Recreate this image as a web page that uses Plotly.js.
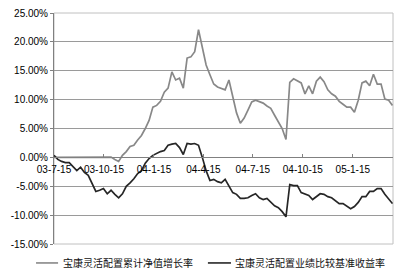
<!DOCTYPE html>
<html>
<head>
<meta charset="utf-8">
<script src="https://cdn.plot.ly/plotly-3.0.1.min.js"></script>
<style>html,body{margin:0;padding:0;background:#fff;}#chart{width:400px;height:273px;}</style>
</head>
<body>
<div id="chart"></div>
<script>
// Weekly observation dates
const dates = [
 "2003-07-15","2003-07-22","2003-07-29","2003-08-05","2003-08-12","2003-08-19","2003-08-26","2003-09-02","2003-09-09","2003-09-16",
 "2003-09-23","2003-09-30","2003-10-07","2003-10-14","2003-10-21","2003-10-28","2003-11-04","2003-11-11","2003-11-18","2003-11-25",
 "2003-12-02","2003-12-09","2003-12-16","2003-12-23","2003-12-30","2004-01-06","2004-01-13","2004-01-20","2004-01-27","2004-02-03",
 "2004-02-10","2004-02-17","2004-02-24","2004-03-02","2004-03-09","2004-03-16","2004-03-23","2004-03-30","2004-04-06","2004-04-13",
 "2004-04-20","2004-04-27","2004-05-04","2004-05-11","2004-05-18","2004-05-25","2004-06-01","2004-06-08","2004-06-15","2004-06-22",
 "2004-06-29","2004-07-06","2004-07-13","2004-07-20","2004-07-27","2004-08-03","2004-08-10","2004-08-17","2004-08-24","2004-08-31",
 "2004-09-07","2004-09-14","2004-09-21","2004-09-28","2004-10-05","2004-10-12","2004-10-19","2004-10-26","2004-11-02","2004-11-09",
 "2004-11-16","2004-11-23","2004-11-30","2004-12-07","2004-12-14","2004-12-21","2004-12-28","2005-01-04","2005-01-11","2005-01-18",
 "2005-01-25","2005-02-01","2005-02-08","2005-02-15","2005-02-22","2005-03-01","2005-03-08","2005-03-15","2005-03-22","2005-03-29"
];
// 宝康灵活配置累计净值增长率 (%)
const navGrowth = [
 0,0,0,0,0,0,0,0,0,0,
 0,0,0,0,0,0.05,-0.35,-0.7,0.35,1.0,
 1.9,2.1,3.0,3.8,5.0,6.4,8.7,9.0,9.7,11.3,
 12.0,14.8,13.4,13.7,12.0,17.2,17.4,18.3,22.1,19.0,
 16.0,14.3,12.7,12.2,12.0,11.7,13.4,10.3,7.7,5.9,
 6.8,8.2,9.6,9.9,9.6,9.4,8.9,8.5,7.3,6.1,
 5.0,3.1,13.0,13.6,13.2,12.9,11.0,12.4,11.0,13.2,
 13.9,13.1,11.7,11.0,10.6,9.7,9.2,8.7,8.7,7.8,
 9.9,12.9,13.2,12.4,14.4,12.7,12.7,10.1,9.9,9.0
];
// 宝康灵活配置业绩比较基准收益率 (%)
const benchmark = [
 0.35,-0.35,-0.7,-0.9,-0.9,-1.7,-2.3,-1.7,-2.6,-3.1,
 -4.5,-5.9,-5.7,-5.4,-6.3,-5.7,-6.4,-7.0,-6.3,-5.0,
 -4.4,-3.7,-2.8,-2.3,-1.0,-0.2,0.35,0.7,1.0,1.2,
 2.1,2.3,2.4,1.7,0.5,2.4,2.3,2.4,2.1,0,
 -2.3,-4.0,-3.8,-4.2,-4.4,-3.8,-4.9,-6.1,-6.4,-7.1,
 -7.1,-7.0,-6.6,-6.3,-7.0,-7.3,-7.1,-7.7,-8.4,-8.7,
 -9.4,-10.3,-4.7,-4.9,-4.9,-6.1,-6.3,-6.6,-7.3,-6.8,
 -6.3,-6.4,-6.8,-7.0,-7.5,-8.0,-8.0,-8.5,-8.9,-8.5,
 -7.8,-6.8,-6.8,-5.9,-5.9,-5.4,-5.4,-6.4,-7.3,-8.0
];
const seriesNames = ["宝康灵活配置累计净值增长率", "宝康灵活配置业绩比较基准收益率"];
const seriesColors = ["#888888", "#262626"];
const xTickVals = ["2003-07-15","2003-10-15","2004-01-15","2004-04-15","2004-07-15","2004-10-15","2005-01-15"];
const xTickText = ["03-7-15","03-10-15","04-1-15","04-4-15","04-7-15","04-10-15","05-1-15"];
const yTickVals = [-15,-10,-5,0,5,10,15,20,25];
const yTickText = ["-15.00%","-10.00%","-5.00%","0.00%","5.00%","10.00%","15.00%","20.00%","25.00%"];

const font = "Liberation Sans";
const cjk = "Noto Sans CJK SC";
const traces = seriesNames.map((nm, k) => ({
  x: dates, y: k === 0 ? navGrowth : benchmark, name: nm, type: "scatter", mode: "lines",
  line: {color: seriesColors[k], width: 1.7}, showlegend: false
}));

// manual legend (paper coordinates relative to plot area)
const legY = -0.082;
const legItems = [{x0: -0.053, x1: 0.012, tx: 0.022}, {x0: 0.454, x1: 0.522, tx: 0.528}];
const shapes = [
  {type: "rect", xref: "paper", yref: "paper", x0: 0, x1: 1, y0: 0, y1: 1,
   line: {color: "#c0c0c0", width: 1}, layer: "below"}
];
const annotations = [];
legItems.forEach((it, k) => {
  shapes.push({type: "line", xref: "paper", yref: "paper", x0: it.x0, x1: it.x1, y0: legY, y1: legY,
    line: {color: seriesColors[k], width: 1.6}});
  annotations.push({xref: "paper", yref: "paper", x: it.tx, y: legY, xanchor: "left", yanchor: "middle",
    text: seriesNames[k], showarrow: false, font: {family: cjk, size: 10, color: "#111"}});
});

const layout = {
 width: 400, height: 273,
 margin: {l: 54, r: 7, t: 13, b: 29, autoexpand: false},
 paper_bgcolor: "#fff", plot_bgcolor: "#fff",
 font: {family: font, size: 10, color: "#000"},
 showlegend: false,
 xaxis: {type: "date", range: ["2003-07-15", "2005-03-30"],
  tickvals: xTickVals, ticktext: xTickText, tickangle: 0,
  anchor: "free", position: 0.375,
  showline: true, linecolor: "#808080", linewidth: 1,
  ticks: "inside", ticklen: 3, tickcolor: "#808080",
  ticklabelstandoff: 3,
  showgrid: false, zeroline: false,
  tickfont: {family: font, size: 10, color: "#000"}},
 yaxis: {range: [-15, 25], tickvals: yTickVals, ticktext: yTickText,
  showline: true, linecolor: "#808080", linewidth: 1,
  ticks: "outside", ticklen: 3, tickcolor: "#808080",
  showgrid: true, gridcolor: "#9a9a9a", gridwidth: 1, zeroline: false,
  tickfont: {family: font, size: 10, color: "#000"}},
 shapes: shapes,
 annotations: annotations
};
Plotly.newPlot("chart", traces, layout, {displayModeBar: false, staticPlot: true});
</script>
</body>
</html>
